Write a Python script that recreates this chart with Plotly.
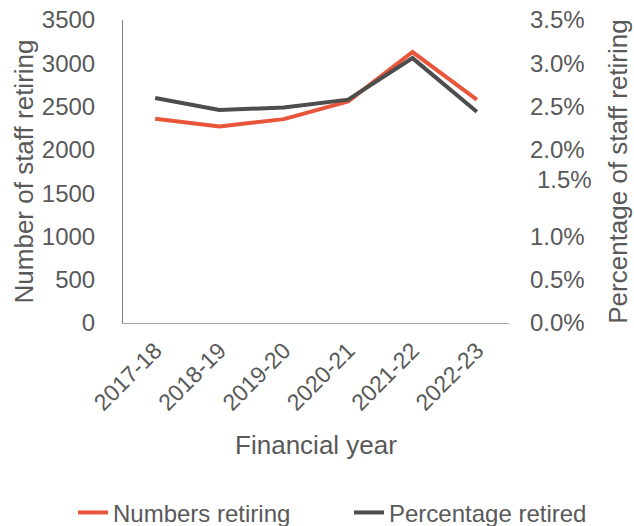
import plotly.graph_objects as go

years = ["2017-18", "2018-19", "2019-20", "2020-21", "2021-22", "2022-23"]
numbers_retiring = [2360, 2270, 2355, 2560, 3130, 2580]
percentage_retired = [0.0260, 0.0246, 0.0249, 0.0258, 0.0306, 0.0244]

pct_ticks = [0.0, 0.005, 0.010, 0.020, 0.025, 0.030, 0.035]
odd_tick_label = "1.5%"

ORANGE = "#E8553A"
GREY = "#4D4D4D"
TXT = "#595959"
FONT = "Liberation Sans, Arial, sans-serif"

fig = go.Figure()
fig.add_trace(go.Scatter(x=years, y=numbers_retiring, name="Numbers retiring",
                         mode="lines", line=dict(color=ORANGE, width=4), legend="legend"))
fig.add_trace(go.Scatter(x=years, y=percentage_retired, name="Percentage retired",
                         mode="lines", line=dict(color=GREY, width=4), yaxis="y2",
                         legend="legend2"))

legend_common = dict(orientation="h", xref="container", yref="container",
                     xanchor="left", yanchor="middle", y=0.025,
                     font=dict(size=24, color=TXT), bgcolor="rgba(0,0,0,0)")

fig.update_layout(
    width=634, height=526,
    margin=dict(l=123, r=125, t=20, b=203, autoexpand=False),
    plot_bgcolor="white", paper_bgcolor="white",
    font=dict(family=FONT, color=TXT, size=24),
    showlegend=True,
    legend=dict(x=73 / 634, **legend_common),
    legend2=dict(x=349 / 634, **legend_common),
    xaxis=dict(showgrid=False, showline=True, linecolor="#A6A6A6", linewidth=1,
               tickangle=-45, tickfont=dict(size=23, color=TXT), automargin=False,
               ticklabelstandoff=4,
               title=dict(text="Financial year", font=dict(size=26, color=TXT), standoff=21),
               ticks="", range=[-0.5, 5.5]),
    yaxis=dict(range=[0, 3500], dtick=500, showgrid=False, showline=True,
               linecolor="#7F7F7F", linewidth=1, zeroline=False, automargin=False,
               tickfont=dict(size=24, color=TXT), ticklabelstandoff=22,
               title=dict(text="Number of staff retiring", font=dict(size=26, color=TXT), standoff=0)),
    yaxis2=dict(range=[0, 0.035], overlaying="y", side="right", tickvals=pct_ticks,
                tickformat=".1%", showgrid=False, showline=False, zeroline=False,
                automargin=False,
                tickfont=dict(size=24, color=TXT), ticklabelstandoff=20,
                title=dict(text="Percentage of staff retiring", font=dict(size=26, color=TXT), standoff=25)),
    annotations=[dict(text=odd_tick_label, xref="paper", yref="y2", x=1.145, y=0.01655,
                      xanchor="center", yanchor="middle", showarrow=False,
                      font=dict(size=24, color=TXT))],
)

fig.write_html("out.html", config={"displayModeBar": False},
               post_script="document.body.style.margin='0';")
